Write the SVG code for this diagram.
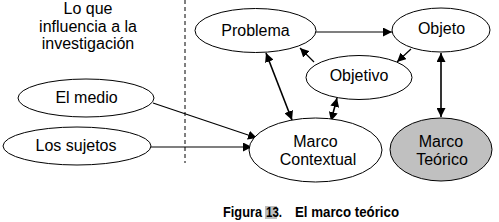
<svg xmlns="http://www.w3.org/2000/svg" width="499" height="222" viewBox="0 0 499 222">
  <style>
    .node { fill: #ffffff; stroke: #000000; stroke-width: 1; }
    .gray { fill: #c0c0c0; }
    .lbl { font-family: "Liberation Sans", Arial, sans-serif; font-size: 16px; fill: #000000; text-anchor: middle; }
    .edge { stroke: #000000; stroke-width: 1.2; fill: none; marker-end: url(#arr); }
    .both { stroke: #000000; stroke-width: 1.6; fill: none; marker-start: url(#arr); marker-end: url(#arr); }
    .cap { font-family: "Liberation Sans", Arial, sans-serif; font-size: 14px; font-weight: bold; fill: #000000; }
  </style>
  <defs>
    <marker id="arr" markerUnits="userSpaceOnUse" markerWidth="10" markerHeight="9" refX="9" refY="4.5" orient="auto-start-reverse" viewBox="0 0 10 9">
      <path d="M0,0 L9,4.5 L0,9 z" fill="#000000"/>
    </marker>
  </defs>
  <rect width="499" height="222" fill="#ffffff"/>

  <g id="heading">
    <text class="lbl" x="88" y="14">Lo que</text>
    <text class="lbl" x="88" y="32">influencia a la</text>
    <text class="lbl" x="88" y="49">investigación</text>
  </g>
  <line id="divider" x1="185" y1="0" x2="185" y2="163" stroke="#000000" stroke-width="1" stroke-dasharray="4,3"/>

  <g id="connectors">
    <line class="edge" x1="316" y1="32" x2="392" y2="32"/>
    <line class="edge" x1="411" y1="49" x2="397" y2="62"/>
    <line class="edge" x1="314" y1="62" x2="300" y2="48"/>
    <line class="both" x1="266" y1="53" x2="292" y2="120"/>
    <line class="both" x1="337" y1="98" x2="331" y2="121"/>
    <line class="both" x1="441" y1="53" x2="441" y2="117"/>
    <line class="edge" x1="153" y1="103" x2="257" y2="138"/>
    <line class="edge" x1="150" y1="147" x2="252" y2="147"/>
  </g>

  <g id="problema">
    <ellipse class="node" cx="255.5" cy="30.5" rx="60.5" ry="22"/>
    <text class="lbl" x="255.5" y="36">Problema</text>
  </g>
  <g id="objeto">
    <ellipse class="node" cx="441" cy="30" rx="49" ry="22"/>
    <text class="lbl" x="441.5" y="34">Objeto</text>
  </g>
  <g id="objetivo">
    <ellipse class="node" cx="359" cy="77.5" rx="53" ry="22"/>
    <text class="lbl" x="359" y="81">Objetivo</text>
  </g>
  <g id="elmedio">
    <ellipse class="node" cx="86" cy="98" rx="68" ry="19"/>
    <text class="lbl" x="86.5" y="103">El medio</text>
  </g>
  <g id="lossujetos">
    <ellipse class="node" cx="77" cy="146" rx="74" ry="19"/>
    <text class="lbl" x="76" y="151">Los sujetos</text>
  </g>
  <g id="marcocontextual">
    <ellipse class="node" cx="315.5" cy="150" rx="66.5" ry="32"/>
    <text class="lbl" x="315.5" y="147">Marco</text>
    <text class="lbl" x="318" y="165">Contextual</text>
  </g>
  <g id="marcoteorico">
    <ellipse class="node gray" cx="441" cy="149.5" rx="51" ry="31.5"/>
    <text class="lbl" x="441" y="147">Marco</text>
    <text class="lbl" x="442" y="165">Teórico</text>
  </g>

  <g id="caption">
    <rect x="265" y="206" width="12" height="13" fill="#bdbdbd"/>
    <text class="cap" y="217"><tspan x="223" textLength="39" lengthAdjust="spacingAndGlyphs">Figura</tspan> <tspan x="266" textLength="16" lengthAdjust="spacingAndGlyphs">13.</tspan> <tspan x="295" textLength="104" lengthAdjust="spacingAndGlyphs">El marco teórico</tspan></text>
  </g>
</svg>
